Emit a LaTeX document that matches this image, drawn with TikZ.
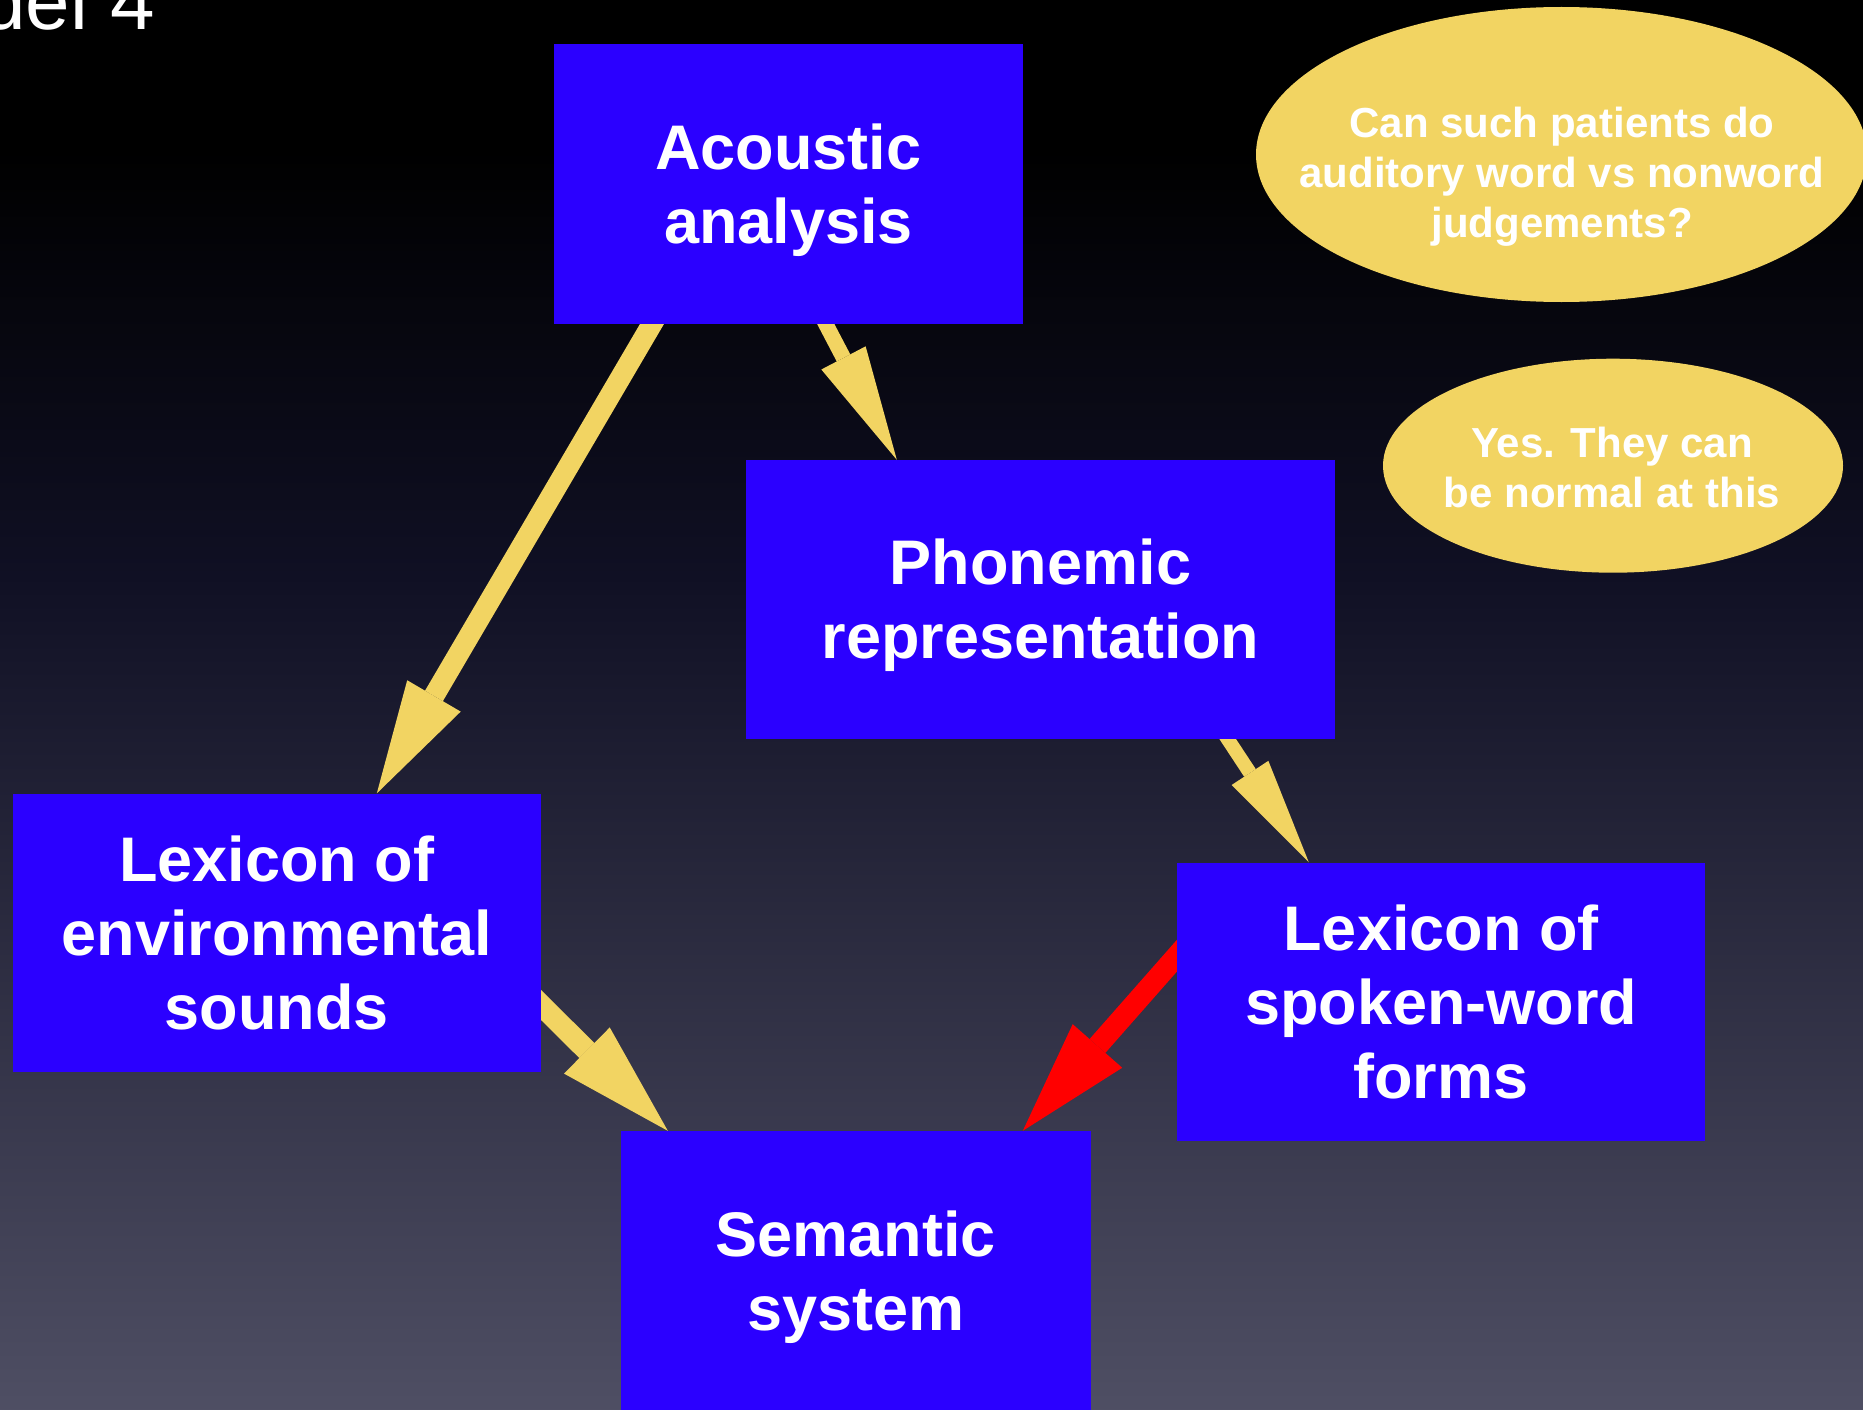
\documentclass[tikz,border=0pt]{standalone}
\usepackage{fontspec}
\setmainfont{Liberation Sans}
\usetikzlibrary{arrows.meta,shapes.geometric}
\definecolor{boxblue}{RGB}{43,0,255}
\definecolor{gold}{RGB}{242,212,98}
\definecolor{bgmid}{RGB}{16,16,36}
\definecolor{bgbot}{RGB}{79,79,100}
\pgfdeclarelayer{backdrop}
\pgfdeclarelayer{links}
\pgfsetlayers{backdrop,links,main}
% invisible strut that lowers two-line labels a little
\newcommand{\toppad}{\rule{0pt}{58pt}}

\begin{document}
\begin{tikzpicture}[x=1pt,y=-1pt,
  stage/.style={fill=boxblue, text=white, inner sep=0pt, align=center,
    font=\bfseries\fontsize{63}{74}\selectfont},
  bubble/.style={ellipse, fill=gold, inner sep=0pt},
  bubbletext/.style={text=white, align=center, inner sep=0pt,
    font=\bfseries\fontsize{42}{50}\selectfont},
  flow/.style={draw=gold, line width=#1},
  hotflow/.style={draw=red, line width=#1},
]
\useasboundingbox (0,0) rectangle (1863,1410);
\clip (0,0) rectangle (1863,1410);

% dark backdrop fading from black to slate grey
\begin{pgfonlayer}{backdrop}
  \fill[black] (-5,-5) rectangle (1868,151);
  \fill[top color=black, bottom color=bgmid] (-5,150) rectangle (1868,576);
  \fill[top color=bgmid, bottom color=bgbot] (-5,575) rectangle (1868,1415);
\end{pgfonlayer}

% heading
\node[anchor=base east, text=white, inner sep=0pt,
      font=\fontsize{80}{96}\selectfont] (title) at (155,30) {Model 4};

% processing stages
\node[stage, minimum width=469.3pt, minimum height=280pt] (ac) at (788.4,184) {\toppad Acoustic\\analysis};
\node[stage, minimum width=589pt, minimum height=279pt] (ph) at (1040.5,599.5) {\toppad Phonemic\\representation};
\node[stage, minimum width=527.6pt, minimum height=278pt] (le) at (276.8,932.6) {Lexicon of\\environmental\\sounds};
\node[stage, minimum width=528pt, minimum height=278pt] (ls) at (1441,1001.5) {Lexicon of\\spoken-word\\forms};
\node[stage, minimum width=469.6pt, minimum height=280pt] (se) at (855.8,1271) {\toppad Semantic\\system};

% question and answer bubbles
\node[bubble, minimum width=611pt, minimum height=295pt] (q1) at (1561.5,154.5) {};
\node[bubbletext] (q1t) at (1562,177) {Can such patients do\\auditory word vs nonword\\judgements?};
\node[bubble, minimum width=460pt, minimum height=214pt] (q2) at (1613,465.7) {};
\node[bubbletext] (q2t) at (1612,467) {Yes. They can\\be normal at this};

% connections between stages
\begin{pgfonlayer}{links}
  \draw[flow=20.7pt, shorten <=-12pt, -{Triangle[length=113pt,width=62pt,line width=0pt]}]
    ([xshift=98.3pt]ac.south west) -- ([xshift=364pt]le.north west);
  \draw[flow=15.3pt, shorten <=-12pt, -{Triangle[length=115pt,width=50pt,line width=0pt]}]
    ([xshift=272.3pt]ac.south west) -- ([xshift=151pt]ph.north west);
  \draw[flow=13.9pt, shorten <=-12pt, -{Triangle[length=107pt,width=44pt,line width=0pt]}]
    ([xshift=482pt]ph.south west) -- ([xshift=132pt]ls.north west);
  \draw[flow=21.3pt, shorten <=-12pt, -{Triangle[length=114pt,width=65pt,line width=0pt]}]
    ([yshift=-211.4pt]le.north east) -- ([xshift=47pt]se.north west);
  \draw[hotflow=21pt, shorten <=-12pt, -{Triangle[length=113pt,width=66pt,line width=0pt]}]
    ([yshift=-93.5pt]ls.north west) -- ([xshift=402pt]se.north west);
\end{pgfonlayer}
\end{tikzpicture}
\end{document}
